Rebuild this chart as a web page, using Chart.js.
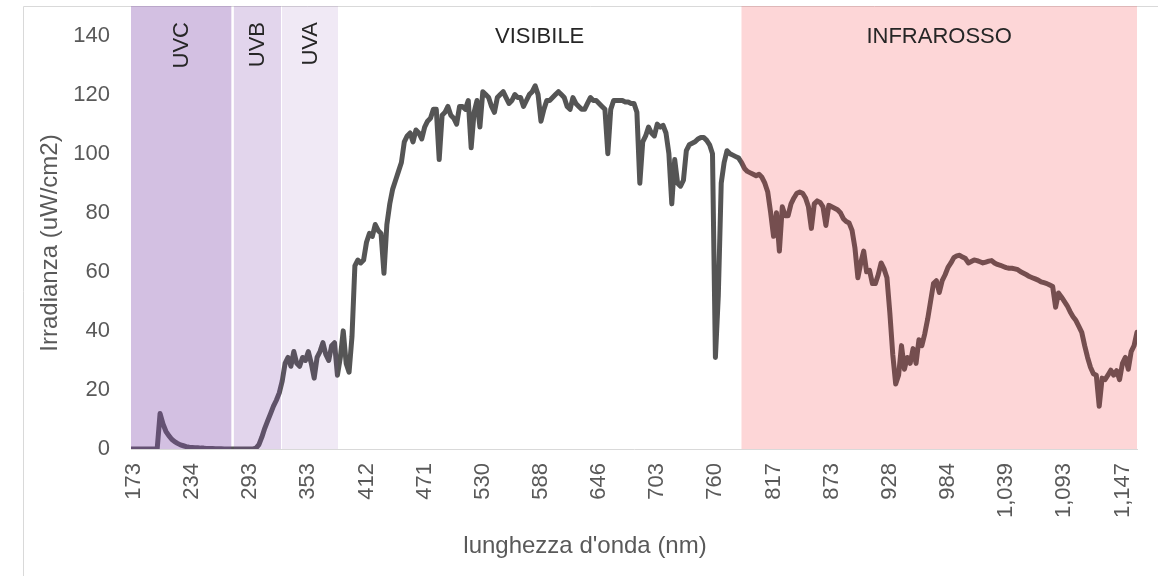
<!DOCTYPE html>
<html lang="it">
<head>
<meta charset="utf-8">
<title>Irradianza spettrale</title>
<script src="https://cdn.jsdelivr.net/npm/chart.js@4.4.1/dist/chart.umd.min.js"></script>
<style>
  html, body { margin: 0; padding: 0; background: #ffffff; }
  #wrap { width: 1158px; height: 576px; }
</style>
</head>
<body>
<div id="wrap"><canvas id="spectrumChart" width="1158" height="576"></canvas></div>
<script>
// --- DATI ---
// one value every sample of the spectrometer, a wavelength label every TICK_STEP samples
const TICK_STEP = 20;
const FIRST_SAMPLE = -1;
const LAST_SAMPLE = 345;

const xTickLabels = ['173', '234', '293', '353', '412', '471', '530', '588', '646',
  '703', '760', '817', '873', '928', '984', '1,039', '1,093', '1,147'];
const yTickValues = [0, 20, 40, 60, 80, 100, 120, 140];

const irradiance = [
  0, 0, 0, 0, 0, 0, 0, 0, 0, 0,
  12, 8.5, 6, 4.5, 3.3, 2.5, 1.9, 1.4, 1.1, 0.8, 0.6,
  0.5, 0.4, 0.4, 0.3, 0.3, 0.2, 0.2, 0.2, 0.1, 0.1, 0.1,
  0, 0, 0, 0, 0, 0, 0, 0, 0, 0, 0,
  0.3, 1.5, 4, 7, 9.5, 12, 14.5, 16.5, 19, 23,
  29, 31, 28, 33, 29, 28, 31, 30, 33, 29,
  24, 31, 33, 36, 32, 30, 35, 36, 25, 31,
  40, 29, 26, 38, 62, 64, 63, 64, 70, 73,
  72, 76, 74, 73, 59.5, 76, 83, 88, 91, 94,
  97, 104, 106, 107, 104, 108, 107, 105, 109, 111,
  112, 115, 115, 98, 113, 114, 116, 113, 112, 110,
  116, 116, 115, 118, 102, 114, 118, 109, 121, 120,
  119, 116, 114, 119, 120, 121, 119, 117, 118, 120,
  119, 119, 116, 118, 120, 121, 123, 120, 111, 115,
  118, 118, 119, 120, 121, 120, 119, 116, 115, 119,
  117, 116, 115, 115, 117, 119, 118, 118, 117, 116,
  115, 100, 115, 118, 118, 118, 118, 117.5, 117.5, 117,
  117, 114, 90, 104, 106, 109, 107, 106, 110, 109,
  109.6, 107, 100, 83, 98, 90, 89, 91, 101, 103,
  103.5, 104, 105, 105.5, 105.5, 104.5, 103, 100, 31, 52,
  90, 97, 101, 100, 99.5, 99, 98.5, 97, 95, 94,
  93.5, 93, 92.5, 93, 92, 90, 87, 80, 72, 80,
  67, 82, 79, 79, 83, 85, 86.6, 87, 86.6, 85,
  82, 74.7, 83, 84, 83.5, 82, 75.7, 82.5, 82, 81.5,
  81, 80, 78, 77, 76.5, 74, 68, 58, 63, 67,
  60, 60.5, 56, 56, 59, 63, 61, 58, 46, 32,
  22, 25, 35, 27, 31, 29, 34, 29, 37, 35,
  39, 44, 50, 56, 57, 53, 57, 59, 61.5, 63,
  64.8, 65.4, 65.6, 65, 64.5, 63, 63.5, 64, 63.8, 63.4,
  63, 63.3, 63.6, 63.8, 63, 62.5, 62.2, 61.8, 61.4, 61.2,
  61.2, 61, 60.7, 60, 59.5, 59, 58.4, 58, 57.6, 57.2,
  56.6, 56.3, 56, 55.5, 55, 48, 52.8, 51.5, 50, 48.5,
  46.5, 44.8, 43.5, 41.5, 39.5, 35, 31, 27.7, 25.5, 25,
  14.5, 24, 23.5, 25, 26.7, 25, 26.5, 23.5, 29, 31,
  27, 33, 35, 39.5
];

// spectral regions, in samples
const bandNames = ['UVC', 'UVB', 'UVA', 'VISIBILE', 'INFRAROSSO'];
const bandStart = [-1, 34.3, 50.9, 70.2, 208.9];
const bandEnd = [33.6, 50.6, 70.2, 208.9, 345];

// --- STILI ---
const FONT = "'Liberation Sans', Arial, sans-serif";
const GREY_TEXT = '#595959';
const bandColors = [
  'rgba(129, 75, 172, 0.35)',
  'rgba(129, 75, 172, 0.23)',
  'rgba(129, 75, 172, 0.12)',
  'rgba(0, 0, 0, 0)',
  'rgba(245, 50, 55, 0.2)'
];
const bandLabelVertical = [true, true, true, false, false];
const BAND_TOP = 150;

(function() {
  const ctx = document.getElementById('spectrumChart').getContext('2d');

  const spectrumPoints = irradiance.map((v, i) => ({ x: FIRST_SAMPLE + i, y: v }));

  // bands go over the line, like the transparent columns of the original
  const bandDatasets = bandNames.map((name, b) => ({
    label: name,
    data: [{ x: bandStart[b], y: BAND_TOP }, { x: bandEnd[b], y: BAND_TOP }],
    fill: 'origin',
    backgroundColor: bandColors[b],
    borderWidth: 0,
    pointRadius: 0,
    order: 1
  }));

  // frame, band names and axis titles
  const decorPlugin = {
    id: 'decor',
    beforeDraw(chart) {
      const c = chart.ctx;
      c.save();
      c.strokeStyle = '#d9d9d9';
      c.lineWidth = 1;
      c.beginPath();
      c.moveTo(23.5, chart.height);
      c.lineTo(23.5, 6.5);
      c.lineTo(chart.width, 6.5);
      c.stroke();
      c.restore();
    },
    afterDatasetsDraw(chart) {
      const c = chart.ctx;
      const xs = chart.scales.x;
      c.save();
      c.fillStyle = '#262626';
      c.font = '22px ' + FONT;
      bandNames.forEach((name, b) => {
        const cx = (xs.getPixelForValue(bandStart[b]) + xs.getPixelForValue(bandEnd[b])) / 2;
        if (bandLabelVertical[b]) {
          c.save();
          c.translate(cx + 1, 22);
          c.rotate(-Math.PI / 2);
          c.textAlign = 'right';
          c.textBaseline = 'middle';
          c.fillText(name, 0, 0);
          c.restore();
        } else {
          c.textAlign = 'center';
          c.textBaseline = 'alphabetic';
          c.fillText(name, cx, 43);
        }
      });

      c.fillStyle = GREY_TEXT;
      c.font = '24px ' + FONT;
      c.textAlign = 'center';
      c.textBaseline = 'middle';
      c.fillText("lunghezza d'onda (nm)", 585, 546);
      c.save();
      c.translate(50, 243);
      c.rotate(-Math.PI / 2);
      c.fillText('Irradianza (uW/cm2)', 0, 0);
      c.restore();
      c.restore();
    }
  };

  new Chart(ctx, {
    type: 'line',
    data: {
      datasets: [
        {
          label: 'Irradianza',
          data: spectrumPoints,
          borderColor: '#555555',
          borderWidth: 5,
          borderJoinStyle: 'round',
          borderCapStyle: 'round',
          pointRadius: 0,
          tension: 0,
          fill: false,
          order: 2
        },
        ...bandDatasets
      ]
    },
    options: {
      responsive: false,
      animation: false,
      devicePixelRatio: 1,
      layout: { padding: { top: 6, right: 21, left: 0, bottom: 0 } },
      plugins: {
        legend: { display: false },
        tooltip: { enabled: false }
      },
      scales: {
        x: {
          type: 'linear',
          min: FIRST_SAMPLE,
          max: LAST_SAMPLE,
          grid: { display: false, drawTicks: false },
          border: { display: true, color: '#d9d9d9', width: 1 },
          afterBuildTicks: (scale) => {
            scale.ticks = xTickLabels.map((_, j) => ({ value: j * TICK_STEP }));
          },
          afterFit: (scale) => {
            scale.height = 127;
            scale.paddingLeft = 0;
            scale.paddingRight = 0;
          },
          ticks: {
            autoSkip: false,
            minRotation: 90,
            maxRotation: 90,
            padding: 14,
            color: GREY_TEXT,
            font: { family: FONT, size: 22 },
            callback: (value) => xTickLabels[Math.round(value / TICK_STEP)]
          }
        },
        y: {
          min: 0,
          max: BAND_TOP,
          grid: { display: false, drawTicks: false },
          border: { display: false },
          afterBuildTicks: (scale) => {
            scale.ticks = yTickValues.map(v => ({ value: v }));
          },
          afterFit: (scale) => {
            scale.width = 131;
            scale.paddingTop = 0;
            scale.paddingBottom = 0;
          },
          ticks: {
            padding: 21,
            color: GREY_TEXT,
            font: { family: FONT, size: 22 }
          }
        }
      }
    },
    plugins: [decorPlugin]
  });
})();
</script>
</body>
</html>
